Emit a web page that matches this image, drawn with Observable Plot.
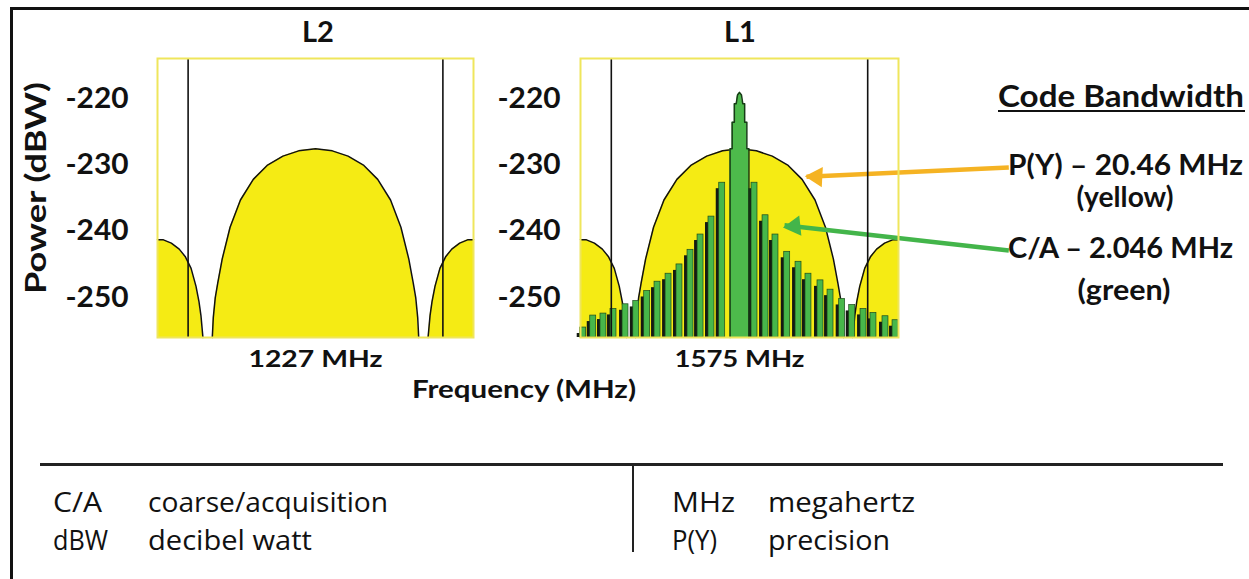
<!DOCTYPE html>
<html><head><meta charset="utf-8">
<script src="https://cdn.jsdelivr.net/npm/d3@7"></script>
<script src="https://cdn.jsdelivr.net/npm/@observablehq/plot@0.6"></script>
<style>
body{margin:0;background:#fff}
#root{position:relative;width:1249px;height:579px;overflow:hidden;background:#fff}
#root svg{position:absolute;top:0}
</style></head><body>
<div id="root"></div>
<script>
// ---------- data ----------
const panelTitles = ["L2", "L1"];
const centerLabels = ["1227 MHz", "1575 MHz"];
const powerTicks = [-220, -230, -240, -250];
const powerDomain = [-256, -214];      // dBW
const freqDomain = [-16, 16];          // MHz offset from carrier
const markerFreq = [-12.9, 12.9];      // black vertical lines

// P(Y) code spectrum (yellow), MHz offset / dBW, split into lobes
const pyLobe = [
  "left","left","left","left","left","left","left","left","left","left",
  "main","main","main","main","main","main","main","main","main","main","main","main",
  "main","main","main","main","main","main","main","main","main","main","main",
  "right","right","right","right","right","right","right","right","right","right"
];
const pyFreq = [
  -16.0, -15.4, -14.6, -13.8, -13.2, -12.6, -12.1, -11.8, -11.6, -11.4,
  -10.45, -10.35, -10.15, -9.9, -9.45, -8.65, -7.6, -6.3, -4.9, -3.3, -1.7, 0,
  1.7, 3.3, 4.9, 6.3, 7.6, 8.65, 9.45, 9.9, 10.15, 10.35, 10.45,
  11.4, 11.6, 11.8, 12.1, 12.6, 13.2, 13.8, 14.6, 15.4, 16.0
];
const pyPower = [
  -241.3, -241.3, -241.8, -242.7, -243.8, -245.6, -248.3, -250.6, -252.7, -256,
  -256, -253.0, -250.0, -247.8, -244.2, -239.4, -235.3, -232.2, -230.1, -228.7, -227.9, -227.6,
  -227.9, -228.7, -230.1, -232.2, -235.3, -239.4, -244.2, -247.8, -250.0, -253.0, -256,
  -256, -252.7, -250.6, -248.3, -245.6, -243.8, -242.7, -241.8, -241.3, -241.3
];

// C/A code spectrum (green): central lobe outline
const caMainFreq = [-0.95, -0.95, -0.74, -0.74, -0.52, -0.52, -0.33, -0.2, 0, 0.2, 0.33, 0.52, 0.52, 0.74, 0.74, 0.95, 0.95];
const caMainPower = [-256, -227.6, -227.6, -223.6, -223.6, -220.8, -220.8, -219.5, -219.1, -219.5, -220.8, -220.8, -223.6, -223.6, -227.6, -227.6, -256];

// C/A side lobes: frequency and peak power
const caSideFreq = [
  -15.73, -14.72, -13.69, -12.68, -11.47, -10.39, -9.29, -8.25, -7.14, -6.04, -4.93, -3.92, -2.82, -1.74,
  1.51, 2.62, 3.62, 4.80, 5.94, 6.94, 8.15, 9.16, 10.33, 11.34, 12.48, 13.48, 14.69, 15.70
];
const caSidePower = [
  -254.5, -252.7, -252.4, -251.7, -251.0, -250.5, -249.0, -247.6, -246.4, -245.0, -242.8, -240.5, -237.8, -232.7,
  -232.7, -237.6, -240.5, -243.1, -244.6, -246.4, -247.4, -248.8, -250.2, -251.1, -251.7, -252.3, -252.8, -253.4
];

// annotation arrows (L1 panel, MHz / dBW)
const arrowTailFreq = [27.1, 27.1];
const arrowTailPower = [-230.4, -242.9];
const arrowTipFreq = [6.74, 4.53];
const arrowTipPower = [-231.8, -239.1];

const bandwidthTitle = "Code Bandwidth";
const bandwidthLabels = ["P(Y) \u2013 20.46 MHz", "(yellow)", "C/A \u2013 2.046 MHz", "(green)"];
const glossaryLeft = [["C/A", "coarse/acquisition"], ["dBW", "decibel watt"]];
const glossaryRight = [["MHz", "megahertz"], ["P(Y)", "precision"]];

// ---------- tables ----------
const py = pyFreq.map((f, i) => ({f, p: pyPower[i], lobe: pyLobe[i]}));
const caMain = caMainFreq.map((f, i) => ({f, p: caMainPower[i]}));
const caSide = caSideFreq.map((f, i) => ({f, p: caSidePower[i]}));
const arrows = arrowTipFreq.map((f, i) => ({x1: arrowTailFreq[i], y1: arrowTailPower[i], x2: f, y2: arrowTipPower[i]}));

const YELLOW = "#f5eb14", FRAME = "#efe65c", GREEN = "#47b74a", INK = "#111";
const ORANGE = "#f5b323", ARROWGREEN = "#43b54a";
const Y0 = powerDomain[0];
const FONT = "Lato, 'Open Sans', sans-serif";

function makePanel(i) {
  const isL1 = i === 1;
  const marks = [
    Plot.areaY(py, {x: "f", y1: Y0, y2: "p", z: "lobe", fill: YELLOW}),
    Plot.line(py, {x: "f", y: "p", z: "lobe", stroke: INK, strokeWidth: 1.5})
  ];
  if (isL1) {
    marks.push(
      Plot.rect(caSide, {x1: d => d.f - 0.6, x2: d => d.f - 0.2, y1: Y0, y2: d => d.p - 0.9, fill: "#151a12"}),
      Plot.rect(caSide, {x1: d => d.f - 0.3, x2: d => d.f + 0.3, y1: Y0, y2: "p", fill: GREEN, stroke: "#1d4a1d", strokeWidth: 0.7}),
      Plot.areaY(caMain, {x: "f", y1: Y0, y2: "p", fill: "#4dba4b"}),
      Plot.line(caMain, {x: "f", y: "p", stroke: "#163c16", strokeWidth: 1.5}),
      Plot.link([arrows[0]], {x1: "x1", y1: "y1", x2: "x2", y2: "y2", stroke: ORANGE, strokeWidth: 4.5}),
      Plot.dot([arrows[0]], {x: "x2", y: "y2", symbol: "triangle", r: 7.5, rotate: -87, dx: 10, fill: ORANGE, stroke: null}),
      Plot.link([arrows[1]], {x1: "x1", y1: "y1", x2: "x2", y2: "y2", stroke: ARROWGREEN, strokeWidth: 4.5}),
      Plot.dot([arrows[1]], {x: "x2", y: "y2", symbol: "triangle", r: 7.5, rotate: -96, dx: 10, dy: 1, fill: ARROWGREEN, stroke: null})
    );
  }
  marks.push(
    Plot.ruleX(markerFreq, {stroke: INK, strokeWidth: 1.6}),
    Plot.frame({stroke: FRAME, strokeWidth: 2}),
    Plot.axisY({ticks: powerTicks, tickFormat: d => String(d), tickSize: 0, tickPadding: isL1 ? 20 : 29,
      fontSize: 29, fontWeight: "bold", color: INK, label: null}),
    Plot.axisX({ticks: [0], tickFormat: () => centerLabels[i], tickSize: 0, tickPadding: 13,
      fontSize: 23, fontWeight: "bold", color: INK, label: null})
  );
  return Plot.plot({
    width: isL1 ? 749 : 500,
    height: 380,
    marginLeft: isL1 ? 80 : 157,
    marginRight: isL1 ? 351 : 27,
    marginTop: 58,
    marginBottom: 43,
    x: {domain: freqDomain},
    y: {domain: powerDomain},
    style: {fontFamily: FONT, background: "transparent", overflow: "visible"},
    marks
  });
}

const root = document.getElementById("root");
const pL2 = makePanel(0); pL2.style.left = "0px";
const pL1 = makePanel(1); pL1.style.left = "500px";
root.append(pL2, pL1);
[pL2, pL1].forEach((svg, i) => {
  d3.select(svg).selectAll('g[aria-label="x-axis tick label"] text')
    .attr("textLength", i ? 130 : 134).attr("lengthAdjust", "spacingAndGlyphs");
  d3.select(svg).selectAll('g[aria-label="y-axis tick label"] text')
    .attr("textLength", 63).attr("lengthAdjust", "spacingAndGlyphs");
});

// ---------- overlay: titles, labels, glossary ----------
const ov = d3.select(root).append("svg").attr("width", 1249).attr("height", 579)
  .style("left", "0px").style("pointer-events", "none");
// cropped outer border
ov.append("rect").attr("x", 10).attr("y", 7).attr("width", 3).attr("height", 580).attr("fill", INK);
ov.append("rect").attr("x", 10).attr("y", 7).attr("width", 1250).attr("height", 3).attr("fill", INK);

function txt(s, x, y, o = {}) {
  const t = ov.append("text").attr("x", x).attr("y", y).text(s)
    .attr("font-family", o.family || FONT).attr("font-size", o.size || 28)
    .attr("font-weight", o.weight || "bold").attr("fill", INK)
    .attr("text-anchor", o.anchor || "start");
  if (o.len) t.attr("textLength", o.len).attr("lengthAdjust", "spacingAndGlyphs");
  if (o.transform) t.attr("transform", o.transform);
  return t;
}
txt(panelTitles[0], 318, 42, {anchor: "middle", size: 29});
txt(panelTitles[1], 740, 42, {anchor: "middle", size: 29});
txt("Power (dBW)", 0, 0, {anchor: "middle", size: 28, len: 212, transform: "translate(46,188) rotate(-90)"});
txt("Frequency (MHz)", 412, 398, {size: 24, len: 224});

txt(bandwidthTitle, 998, 107, {size: 30, len: 246});
ov.append("rect").attr("x", 998).attr("y", 110).attr("width", 247).attr("height", 2).attr("fill", INK);
txt(bandwidthLabels[0], 1008, 175, {size: 28, len: 235});
txt(bandwidthLabels[1], 1125, 207, {size: 28, anchor: "middle", len: 97});
txt(bandwidthLabels[2], 1008, 258, {size: 28, len: 225});
txt(bandwidthLabels[3], 1124, 300, {size: 28, anchor: "middle", len: 93});

// glossary
ov.append("rect").attr("x", 40).attr("y", 463).attr("width", 1183).attr("height", 3).attr("fill", "#222");
ov.append("rect").attr("x", 632).attr("y", 465).attr("width", 2).attr("height", 87).attr("fill", "#222");
const GF = "'Open Sans', sans-serif";
const glossaryWidths = [[49, 240], [55, 164], [63, 147], [45, 122]];
[...glossaryLeft, ...glossaryRight].forEach(([a, b], k) => {
  const col = k < 2 ? 0 : 1, row = k % 2;
  const xa = col ? 672 : 53, xb = col ? 768 : 148, y = 512 + row * 38;
  txt(a, xa, y, {family: GF, weight: "normal", size: 27, len: glossaryWidths[k][0]});
  txt(b, xb, y, {family: GF, weight: "normal", size: 27, len: glossaryWidths[k][1]});
});
</script>
</body></html>
